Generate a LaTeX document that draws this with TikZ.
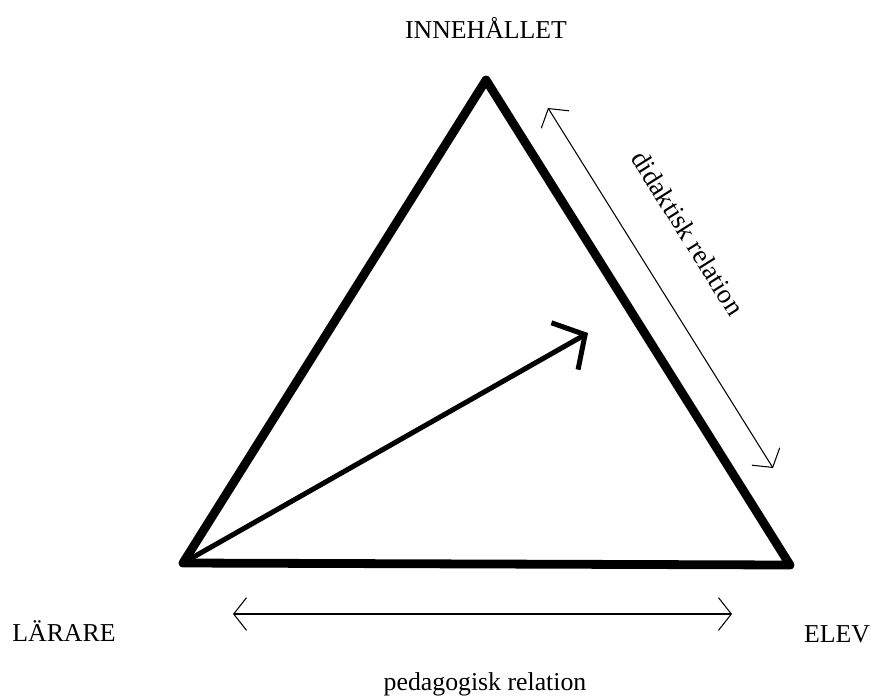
\documentclass[tikz,border=0pt]{standalone}
\usepackage{fontspec}
\setmainfont{Liberation Serif}
\usetikzlibrary{arrows.meta}

\begin{document}
\begin{tikzpicture}[x=0.03cm,y=-0.03cm,
  lbl/.style={anchor=base,font=\fontsize{22}{26}\selectfont},
  side/.style={line width=7.5pt,line join=round,line cap=round},
  rel/.style={line width=0.9pt,{Straight Barb[length=11pt,width=28pt]}-{Straight Barb[length=11pt,width=28pt]}}]
 \useasboundingbox (0,0) rectangle (874,696);

 \coordinate (0) at (486,80);
 \coordinate (1) at (183,563);
 \coordinate (2) at (790,565);

 \node[lbl](3) at (486,38){INNEH\AA LLET};
 \node[lbl](4) at (64,641){L\"ARARE};
 \node[lbl](5) at (837,642){ELEV};
 \node[lbl](6) at (485,690){pedagogisk relation};
 \node[lbl,anchor=center,rotate=-57.8,font=\fontsize{23}{27}\selectfont](7) at (688,233){didaktisk relation};

 \coordinate (8) at (548,108);
 \coordinate (9) at (773,468);
 \coordinate (10) at (233,614);
 \coordinate (11) at (732,614);
 \coordinate (12) at (588,333);

% triangle
 \draw [side] (0) -- (1) -- (2) -- cycle;
 \draw [line width=4.3pt,line cap=round,-{Straight Barb[length=20pt,width=46pt]}] (1) -- (12);

 \draw [rel] (8) -- (9);
 \draw [rel] (10) -- (11);

\end{tikzpicture}
\end{document}
